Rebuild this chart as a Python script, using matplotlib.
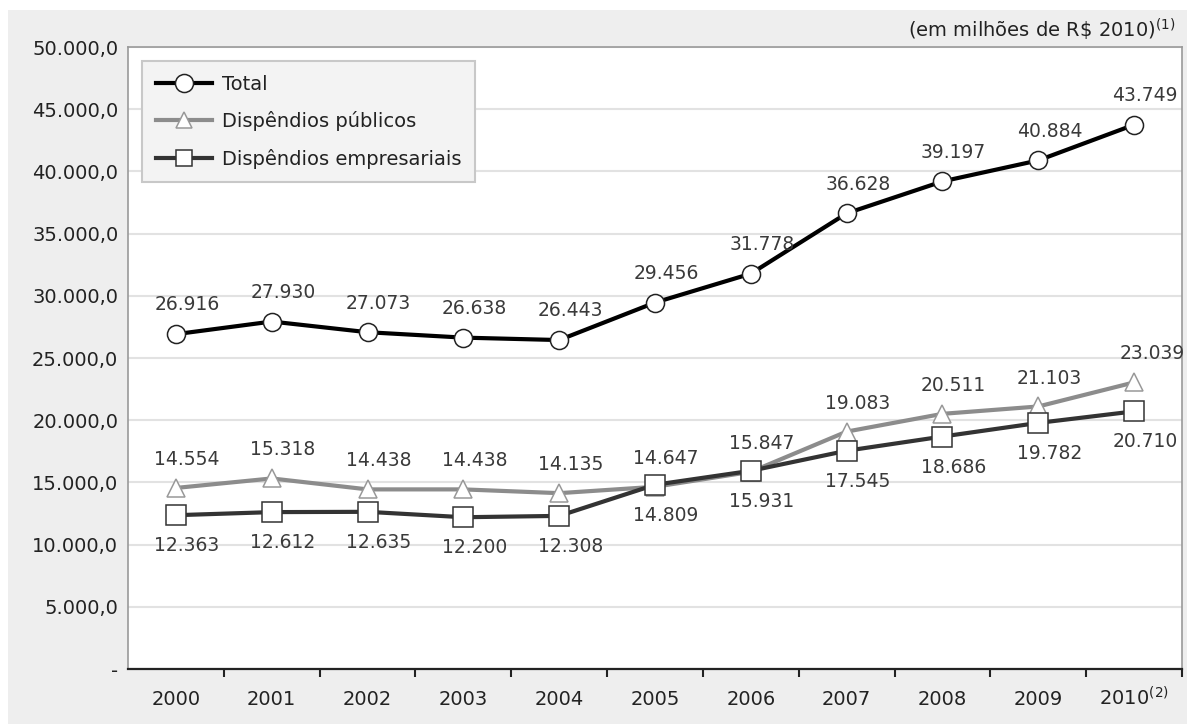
import matplotlib.pyplot as plt
from matplotlib.patches import Rectangle
from matplotlib.lines import Line2D

# Dispêndios em P&D, em milhões de R$ 2010
anos = ["2000", "2001", "2002", "2003", "2004", "2005", "2006", "2007",
        "2008", "2009", "2010$^{(2)}$"]
total = [26916, 27930, 27073, 26638, 26443, 29456, 31778, 36628, 39197, 40884, 43749]
publicos = [14554, 15318, 14438, 14438, 14135, 14647, 15847, 19083, 20511, 21103, 23039]
empresariais = [12363, 12612, 12635, 12200, 12308, 14809, 15931, 17545, 18686, 19782, 20710]
y_ticks = [0, 5000, 10000, 15000, 20000, 25000, 30000, 35000, 40000, 45000, 50000]

TXT = "#3a3a3a"


def fmt_milhar(v):
    return f"{v:,}".replace(",", ".")


def fmt_eixo(v):
    if v == 0:
        return "-"
    return f"{v:,.1f}".replace(",", "X").replace(".", ",").replace("X", ".")


fig = plt.figure(figsize=(11.87, 7.24), dpi=100, facecolor="white")
fig.patches.append(Rectangle((8 / 1187, 0), 1, 1 - 10 / 724, transform=fig.transFigure,
                             facecolor="#eeeeee", edgecolor="none", zorder=-10))
ax = fig.add_axes([128 / 1187, 1 - 669 / 724, (1182 - 128) / 1187, (669 - 47) / 724])
ax.set_facecolor("white")

x = list(range(len(anos)))

ax.plot(x, publicos, color="#8c8c8c", lw=3, marker="^", ms=13, mfc="white",
        mec="#999999", mew=1.1, zorder=3)
ax.plot(x, empresariais, color="#333333", lw=3, marker="s", ms=14, mfc="white",
        mec="#333333", mew=1.1, zorder=4)
ax.plot(x, total, color="black", lw=3, marker="o", ms=13, mfc="white",
        mec="#222222", mew=1.1, zorder=5)

# rótulos de valores (levemente deslocados à direita)
dx = 8
for i in x:
    dxp = 13 if i == len(x) - 1 else dx
    ax.annotate(fmt_milhar(total[i]), (i, total[i]), xytext=(dx, 21),
                textcoords="offset points", ha="center", va="center",
                fontsize=13.5, color=TXT, zorder=6)
    ax.annotate(fmt_milhar(publicos[i]), (i, publicos[i]), xytext=(dxp, 20.5),
                textcoords="offset points", ha="center", va="center",
                fontsize=13.5, color=TXT, zorder=6)
    ax.annotate(fmt_milhar(empresariais[i]), (i, empresariais[i]), xytext=(dx, -22),
                textcoords="offset points", ha="center", va="center",
                fontsize=13.5, color=TXT, zorder=6)

ax.set_xlim(-0.5, len(anos) - 0.5)
ax.set_ylim(0, 50000)
ax.set_yticks(y_ticks)
ax.set_yticklabels([fmt_eixo(v) for v in y_ticks], fontsize=14, color="#222222")
ax.set_xticks(x)
ax.set_xticklabels(anos, fontsize=14, color="#222222")
for lbl in ax.get_xticklabels():
    lbl.set_va("baseline")
ax.set_xticks([i + 0.5 for i in x], minor=True)
ax.tick_params(axis="x", which="major", length=0, pad=26)
ax.tick_params(axis="x", which="minor", length=6, width=1.5, color="#222222")
ax.tick_params(axis="y", length=0, pad=7)
ax.grid(axis="y", color="#e2e2e2", lw=1.5, zorder=0)
ax.set_axisbelow(True)

for s in ["top", "right", "left"]:
    ax.spines[s].set_color("#999999")
    ax.spines[s].set_linewidth(1.2)
ax.spines["bottom"].set_color("#222222")
ax.spines["bottom"].set_linewidth(1.6)

handles = [
    Line2D([], [], color="black", lw=3, marker="o", ms=13, mfc="white", mec="#222222", mew=1.1),
    Line2D([], [], color="#8c8c8c", lw=3, marker="^", ms=12, mfc="white", mec="#999999", mew=1.1),
    Line2D([], [], color="#333333", lw=3, marker="s", ms=12, mfc="white", mec="#333333", mew=1.1),
]
leg = ax.legend(handles, ["Total", "Dispêndios públicos", "Dispêndios empresariais"],
                loc="upper left", bbox_to_anchor=(14 / 1054, 608 / 622), borderaxespad=0,
                fontsize=14, handlelength=2.9, handletextpad=0.5, labelspacing=0.9,
                borderpad=0.7, fancybox=False, framealpha=1)
leg.get_frame().set_facecolor("#f3f3f3")
leg.get_frame().set_edgecolor("#c8c8c8")
leg.get_frame().set_linewidth(1.5)
for t in leg.get_texts():
    t.set_color("#222222")

fig.text(1176 / 1187, 1 - 30 / 724, "(em milhões de R\\$ 2010)$^{(1)}$",
         ha="right", va="center", fontsize=14, color="#222222")

fig.savefig("out.png", dpi=100, facecolor=fig.get_facecolor())
